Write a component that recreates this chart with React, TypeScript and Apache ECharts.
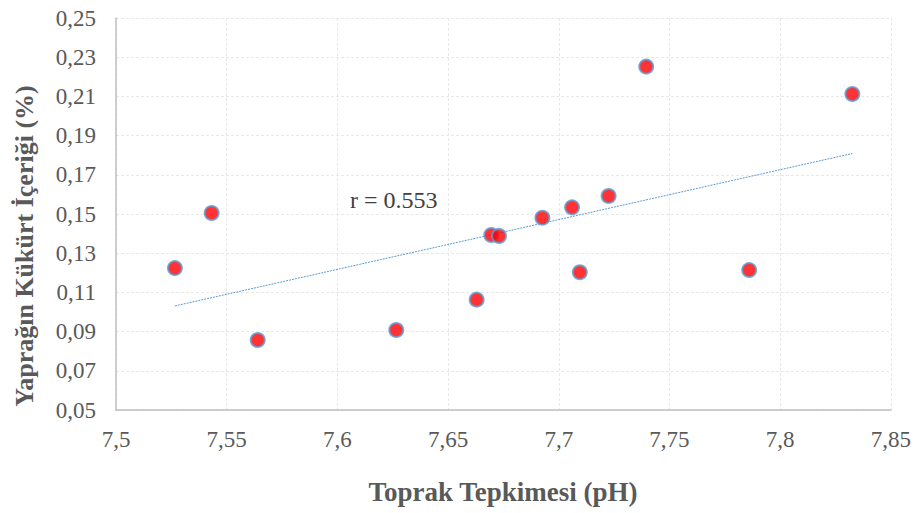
import React, { useEffect, useRef } from "react";
import * as echarts from "echarts";

const phValues = [7.5266, 7.5432, 7.564, 7.6266, 7.6629, 7.6695, 7.673, 7.6926, 7.706, 7.7095, 7.7225, 7.7395, 7.786, 7.8326];
const sulfurValues = [0.1224, 0.1505, 0.0857, 0.0908, 0.1063, 0.1393, 0.1388, 0.1481, 0.1534, 0.1203, 0.1592, 0.2252, 0.1214, 0.2112];
const xTitle = "Toprak Tepkimesi (pH)";
const yTitle = "Yaprağın Kükürt İçeriği (%)";
const rLabel = "r = 0.553";
const xMin = 7.5, xMax = 7.85, xStep = 0.05;
const yMin = 0.05, yMax = 0.25, yStep = 0.02;

function regression(xs: number[], ys: number[]) {
  const n = xs.length;
  const mx = xs.reduce((a, b) => a + b, 0) / n;
  const my = ys.reduce((a, b) => a + b, 0) / n;
  let sxy = 0, sxx = 0;
  for (let i = 0; i < n; i++) {
    sxy += (xs[i] - mx) * (ys[i] - my);
    sxx += (xs[i] - mx) * (xs[i] - mx);
  }
  const slope = sxy / sxx;
  return { slope, intercept: my - slope * mx };
}

const FONT = '"Liberation Serif", "Times New Roman", serif';

export default function App() {
  const ref = useRef<HTMLDivElement>(null);
  useEffect(() => {
    if (!ref.current) return;
    const chart = echarts.init(ref.current, undefined, { renderer: "svg" });
    const pts = phValues.map((x, i) => [x, sulfurValues[i]]);
    const { slope, intercept } = regression(phValues, sulfurValues);
    const lo = Math.min(...phValues), hi = Math.max(...phValues);
    const trend = [[lo, intercept + slope * lo], [hi, intercept + slope * hi]];
    chart.setOption({
      animation: false,
      backgroundColor: "#ffffff",
      grid: { left: 116, right: 22, top: 18, bottom: 103 },
      xAxis: {
        type: "value",
        min: xMin,
        max: xMax,
        interval: xStep,
        axisLine: { show: true, lineStyle: { color: "#BFBFBF", width: 1.5 } },
        axisTick: { show: false },
        splitLine: { show: true, lineStyle: { color: "#E8E8E8", width: 1, type: [3, 2] } },
        axisLabel: {
          margin: 18,
          color: "#595959",
          fontFamily: FONT,
          fontSize: 23,
          formatter: (v: number) => String(Number(v.toFixed(2))).replace(".", ","),
        },
      },
      yAxis: {
        type: "value",
        min: yMin,
        max: yMax,
        interval: yStep,
        axisLine: { show: true, lineStyle: { color: "#BFBFBF", width: 1.5 } },
        axisTick: { show: false },
        splitLine: { show: true, lineStyle: { color: "#E8E8E8", width: 1, type: [3, 2] } },
        axisLabel: {
          margin: 20,
          color: "#595959",
          fontFamily: FONT,
          fontSize: 23,
          formatter: (v: number) => v.toFixed(2).replace(".", ","),
        },
      },
      series: [
        {
          type: "line",
          data: trend,
          symbol: "none",
          lineStyle: { color: "#5B9BD5", width: 1, type: [2, 1] },
          silent: true,
          z: 1,
        },
        {
          type: "scatter",
          data: pts,
          symbol: "circle",
          symbolSize: 14,
          itemStyle: { color: "#FF0000", borderColor: "#5B9BD5", borderWidth: 2 },
          z: 3,
        },
      ],
      graphic: [
        {
          type: "text",
          x: 503,
          y: 492,
          style: {
            text: xTitle,
            fill: "#595959",
            font: `bold 27px ${FONT}`,
            align: "center",
            verticalAlign: "middle",
          },
        },
        {
          type: "text",
          x: 24,
          y: 246,
          rotation: Math.PI / 2,
          style: {
            text: yTitle,
            fill: "#595959",
            font: `bold 26px ${FONT}`,
            align: "center",
            verticalAlign: "middle",
          },
        },
        {
          type: "text",
          x: 350,
          y: 200,
          style: {
            text: rLabel,
            fill: "#404040",
            font: `24px ${FONT}`,
            align: "left",
            verticalAlign: "middle",
          },
        },
      ],
    });
    return () => chart.dispose();
  }, []);
  return <div ref={ref} style={{ position: "fixed", left: 0, top: 0, width: 914, height: 513 }} />;
}
